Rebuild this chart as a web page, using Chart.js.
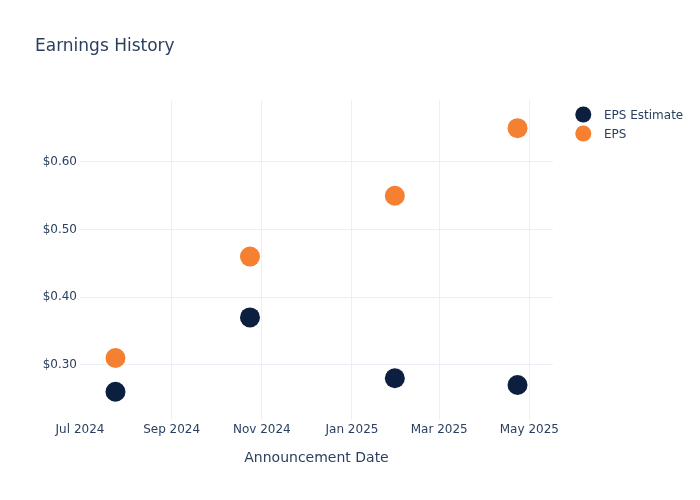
<!DOCTYPE html>
<html>
<head>
<meta charset="utf-8">
<script src="https://cdn.jsdelivr.net/npm/chart.js@4"></script>
<style>
html,body{margin:0;padding:0;background:#fff;}
#wrap{width:700px;height:500px;position:relative;}
</style>
</head>
<body>
<div id="wrap"><canvas id="c" width="700" height="500"></canvas></div>
<script>
// ---- data ----
const announcementDates = ["2024-07-25", "2024-10-24", "2025-01-30", "2025-04-23"];
const epsEstimate = [0.26, 0.37, 0.28, 0.27];
const epsActual = [0.31, 0.46, 0.55, 0.65];
const xTickDates = ["2024-07-01", "2024-09-01", "2024-11-01", "2025-01-01", "2025-03-01", "2025-05-01"];
const xTickLabels = ["Jul 2024", "Sep 2024", "Nov 2024", "Jan 2025", "Mar 2025", "May 2025"];
const yTickValues = [0.30, 0.40, 0.50, 0.60];
const seriesNames = ["EPS Estimate", "EPS"];
const titleText = "Earnings History";
const xAxisTitle = "Announcement Date";

const ts = d => Date.parse(d + "T00:00:00Z");
const estPoints = announcementDates.map((d, i) => ({x: ts(d), y: epsEstimate[i]}));
const epsPoints = announcementDates.map((d, i) => ({x: ts(d), y: epsActual[i]}));
const xTicks = xTickDates.map(ts);

const FONT = "'DejaVu Sans', Verdana, sans-serif";
const TXT = "#2a3f5f";
const GRID = "#ebf0f8";
const colors = ["#0c1f3f", "#f58032"];

const overlay = {
  id: 'overlay',
  afterDraw(chart) {
    const ctx = chart.ctx;
    ctx.save();
    ctx.fillStyle = TXT;
    ctx.textBaseline = 'alphabetic';
    ctx.textAlign = 'left';
    ctx.font = "17px " + FONT;
    ctx.fillText(titleText, 35, 51);
    ctx.font = "14px " + FONT;
    ctx.textAlign = 'center';
    const ca = chart.chartArea;
    ctx.fillText(xAxisTitle, (ca.left + ca.right) / 2, 461.5);
    // legend
    ctx.textAlign = 'left';
    ctx.font = "12px " + FONT;
    chart.data.datasets.forEach((ds, i) => {
      const y = 114.5 + i * 19;
      ctx.beginPath();
      ctx.arc(583.3, y, 8, 0, Math.PI * 2);
      ctx.fillStyle = ds.backgroundColor;
      ctx.fill();
      ctx.fillStyle = TXT;
      ctx.fillText(ds.label, 604, y + 4.5);
    });
    ctx.restore();
  }
};

new Chart(document.getElementById('c'), {
  type: 'scatter',
  data: {
    datasets: [
      {label: seriesNames[0], data: estPoints, backgroundColor: colors[0], borderColor: colors[0], pointRadius: 10, pointHoverRadius: 10, borderWidth: 0},
      {label: seriesNames[1], data: epsPoints, backgroundColor: colors[1], borderColor: colors[1], pointRadius: 10, pointHoverRadius: 10, borderWidth: 0}
    ]
  },
  options: {
    responsive: false,
    animation: false,
    devicePixelRatio: 1,
    layout: {padding: {left: 0, top: 100, right: 147, bottom: 0}},
    plugins: {legend: {display: false}, title: {display: false}, tooltip: {enabled: false}},
    scales: {
      x: {
        type: 'linear',
        min: ts("2024-07-01"),
        max: ts("2025-05-17"),
        afterFit(s) { s.height = 80; },
        afterBuildTicks(s) { s.ticks = xTicks.map(v => ({value: v})); },
        border: {display: false},
        grid: {
          color: c => (c.tick && c.tick.value === xTicks[0]) ? 'rgba(0,0,0,0)' : GRID,
          lineWidth: 1, drawTicks: false
        },
        ticks: {
          padding: 3, color: TXT, font: {family: FONT, size: 12}, maxRotation: 0, autoSkip: false,
          callback(v) { const i = xTicks.indexOf(v); return i >= 0 ? xTickLabels[i] : ''; }
        }
      },
      y: {
        type: 'linear',
        min: 0.2182,
        max: 0.6917,
        afterFit(s) { s.width = 80; },
        afterBuildTicks(s) { s.ticks = yTickValues.map(v => ({value: v})); },
        border: {display: false},
        grid: {color: GRID, lineWidth: 1, drawTicks: false},
        ticks: {
          padding: 3, color: TXT, font: {family: FONT, size: 12},
          callback(v) { return '$' + Number(v).toFixed(2); }
        }
      }
    }
  },
  plugins: [overlay]
});
</script>
</body>
</html>
